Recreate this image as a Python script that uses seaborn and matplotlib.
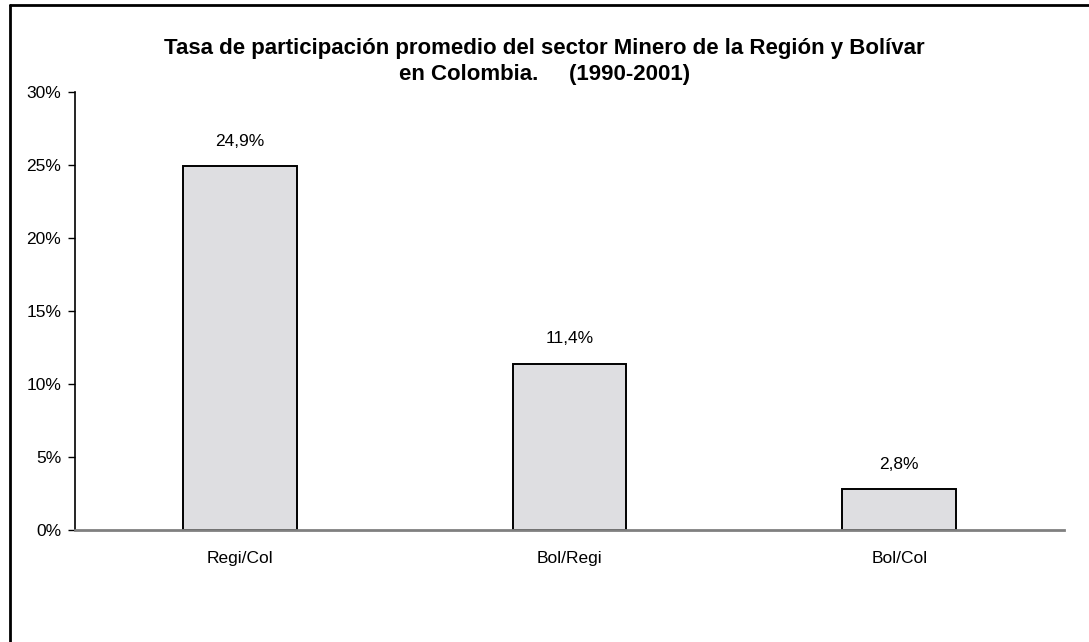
import pandas as pd
import seaborn as sns
import matplotlib.pyplot as plt
from matplotlib.lines import Line2D

categorias = ['Regi/Col', 'Bol/Regi', 'Bol/Col']
tasas = [24.9, 11.4, 2.8]
etiquetas = ['24,9%', '11,4%', '2,8%']

df = pd.DataFrame({'cat': categorias, 'tasa': tasas})

sns.set_style('white')
plt.rcParams['font.family'] = ['Liberation Sans', 'DejaVu Sans']
plt.rcParams['text.color'] = 'black'
plt.rcParams['xtick.color'] = 'black'
plt.rcParams['ytick.color'] = 'black'

fig = plt.figure(figsize=(10.89, 6.42), dpi=100)
ax = fig.add_axes([0.0689, 0.1745, 0.9082, 0.6822])

sns.barplot(x='cat', y='tasa', data=df, color='#dedee1', width=0.345,
            edgecolor='black', linewidth=1.4, saturation=1, ax=ax)

ax.set_ylim(0, 30)
ax.set_xlim(-0.5, 2.5)
ax.set_yticks(range(0, 31, 5))
ax.set_yticklabels([f'{v}%' for v in range(0, 31, 5)], fontsize=12.5)
ax.set_xlabel('')
ax.set_ylabel('')

# ticks de categorias en los limites
ax.set_xticks([0, 1, 2])
ax.set_xticklabels(categorias, fontsize=12.5)
ax.tick_params(axis='x', length=0, pad=15)
ax.set_xticks([-0.5, 0.5, 1.5, 2.5], minor=True)
ax.tick_params(axis='x', which='minor', length=5, width=1.3, color='black', direction='out')
ax.tick_params(axis='y', length=5, width=1, color='black', direction='out', left=True, pad=5)

for s in ['top', 'right']:
    ax.spines[s].set_visible(False)
ax.spines['left'].set_color('black')
ax.spines['left'].set_linewidth(1.2)
ax.spines['bottom'].set_color('#808080')
ax.spines['bottom'].set_linewidth(2)

for i, (v, t) in enumerate(zip(tasas, etiquetas)):
    ax.text(i, v + 1.2, t, ha='center', va='bottom', fontsize=12.5)

fig.text(0.5, 0.924, 'Tasa de participación promedio del sector Minero de la Región y Bolívar',
         ha='center', va='center', fontsize=16, fontweight='bold')
fig.text(0.5, 0.884, 'en Colombia.     (1990-2001)',
         ha='center', va='center', fontsize=16, fontweight='bold')

# marco exterior (solo izquierda y arriba visibles)
fig.add_artist(Line2D([0.009, 0.009], [0, 0.992], transform=fig.transFigure, color='black', lw=2))
fig.add_artist(Line2D([0.009, 1.0], [0.992, 0.992], transform=fig.transFigure, color='black', lw=2))

plt.savefig('out.png', dpi=100)
